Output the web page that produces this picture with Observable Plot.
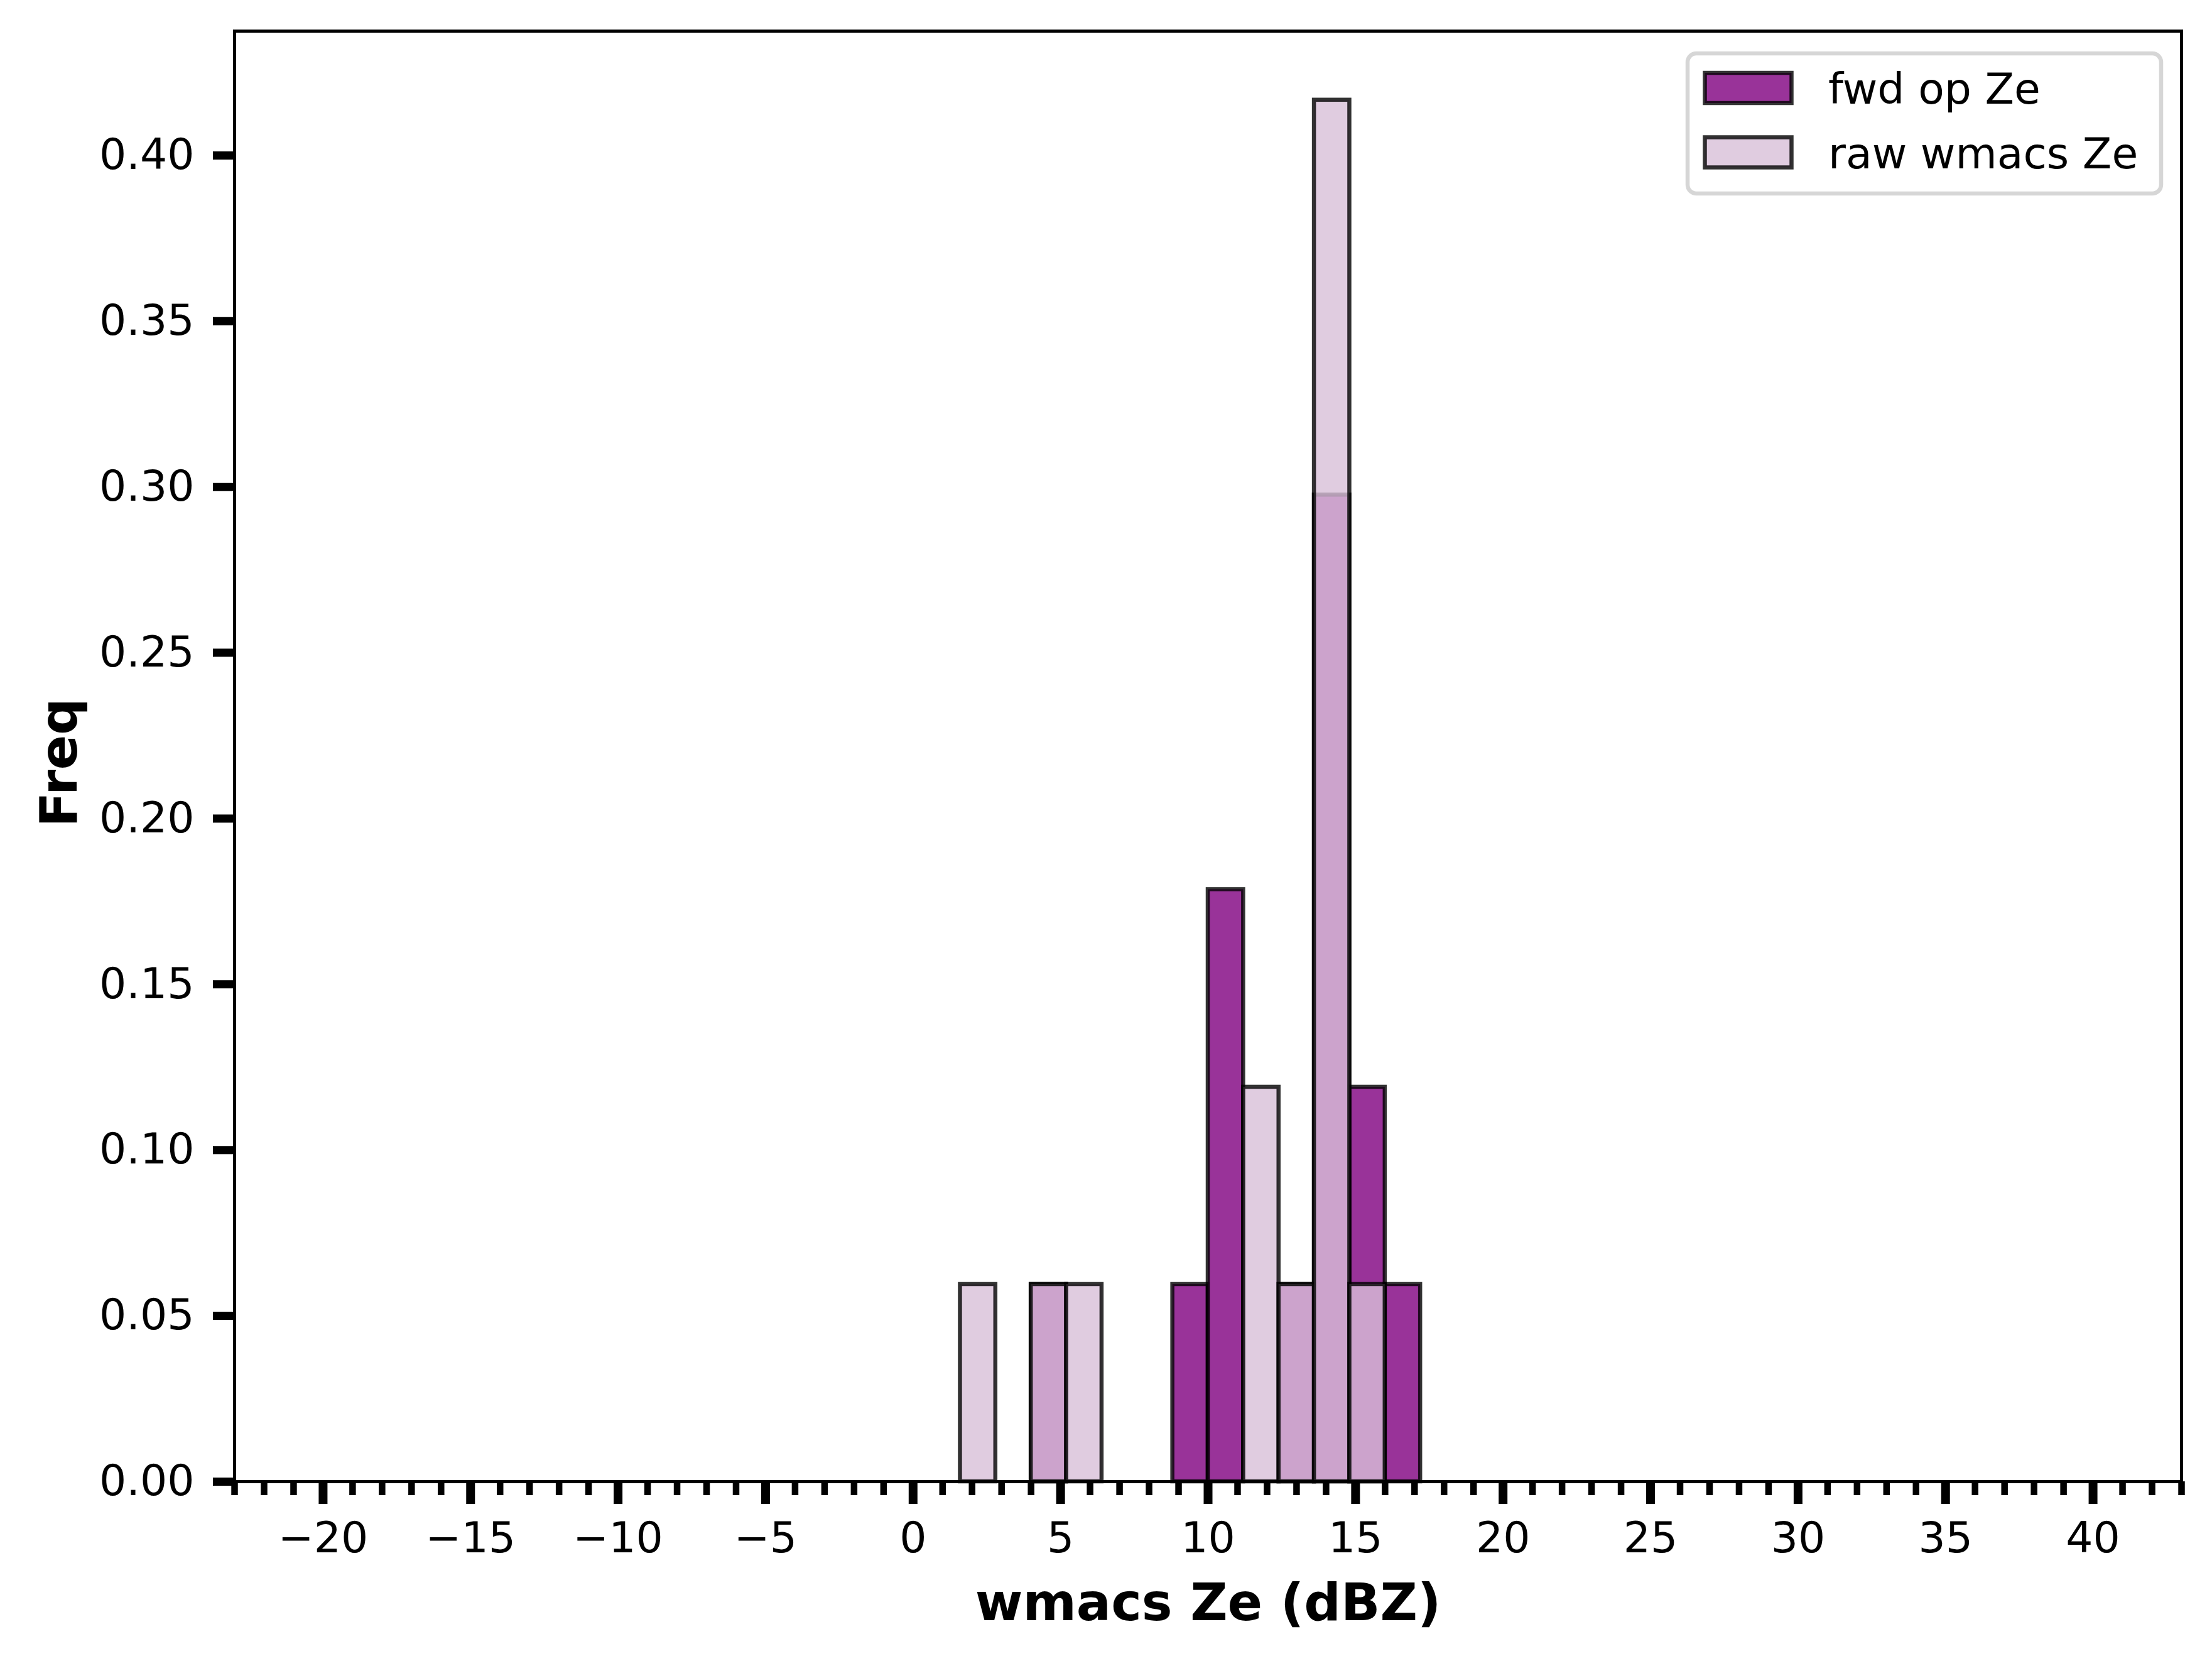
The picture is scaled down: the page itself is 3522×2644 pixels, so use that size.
<!DOCTYPE html>
<html>
<head>
<meta charset="utf-8">
<script src="https://cdn.jsdelivr.net/npm/d3@7"></script>
<script src="https://cdn.jsdelivr.net/npm/@observablehq/plot@0.6"></script>
<style>
  html, body { margin: 0; padding: 0; background: #fff; }
  #chart svg { display: block; max-width: none; }
</style>
</head>
<body>
<div id="chart"></div>
<script>
// ---- data ----
const binLo = [1.6, 2.8, 4.0, 5.2, 6.4, 7.6, 8.8, 10.0, 11.2, 12.4, 13.6, 14.8, 16.0];
const binHi = [2.8, 4.0, 5.2, 6.4, 7.6, 8.8, 10.0, 11.2, 12.4, 13.6, 14.8, 16.0, 17.2];
const fwdFreq = [0, 0, 0.0595, 0, 0, 0, 0.0595, 0.1786, 0, 0.0595, 0.2976, 0.119, 0.0595];
const rawFreq = [0.0595, 0, 0.0595, 0.0595, 0, 0, 0, 0, 0.119, 0.0595, 0.4167, 0.0595, 0];
const seriesNames = ["fwd op Ze", "raw wmacs Ze"];
const xMajorTicks = [-20, -15, -10, -5, 0, 5, 10, 15, 20, 25, 30, 35, 40];
const yTicks = [0, 0.05, 0.10, 0.15, 0.20, 0.25, 0.30, 0.35, 0.40];
const xDomain = [-23, 43];
const yDomain = [0, 0.4375];
const xLabel = "wmacs Ze (dBZ)";
const yLabel = "Freq";

// ---- tables ----
const fwdRows = binLo.map((lo, i) => ({lo, hi: binHi[i], v: fwdFreq[i]})).filter(d => d.v > 0);
const rawRows = binLo.map((lo, i) => ({lo, hi: binHi[i], v: rawFreq[i]})).filter(d => d.v > 0);
const xMinorTicks = d3.range(xDomain[0], xDomain[1] + 1, 1).filter(t => !xMajorTicks.includes(t));

const W = 3522, H = 2644;
const mL = 373, mR = 49, mT = 49, mB = 286;
const FONT = "DejaVu Sans";
const fwdColor = "#800080", rawColor = "#d8bfd8";
const minus = d => (d < 0 ? "\u2212" + Math.abs(d) : String(d));

const chart = Plot.plot({
  width: W,
  height: H,
  marginLeft: mL,
  marginRight: mR,
  marginTop: mT,
  marginBottom: mB,
  style: {fontFamily: FONT, fontSize: "68px", color: "black", background: "white"},
  x: {domain: xDomain},
  y: {domain: yDomain},
  marks: [
    Plot.rectY(fwdRows, {x1: "lo", x2: "hi", y1: 0, y2: "v", fill: fwdColor, fillOpacity: 0.8,
      stroke: "black", strokeOpacity: 0.8, strokeWidth: 6.5}),
    Plot.rectY(rawRows, {x1: "lo", x2: "hi", y1: 0, y2: "v", fill: rawColor, fillOpacity: 0.8,
      stroke: "black", strokeOpacity: 0.8, strokeWidth: 6.5}),
    Plot.frame({stroke: "black", strokeWidth: 5}),
    Plot.axisX({ticks: xMinorTicks, tickSize: 22, strokeWidth: 10.5, text: null, label: null}),
    Plot.axisX({ticks: xMajorTicks, tickSize: 36, strokeWidth: 14, tickPadding: 28,
      tickFormat: minus, fontSize: 68, label: null}),
    Plot.axisY({ticks: yTicks, tickSize: 34, strokeWidth: 13, tickPadding: 30,
      tickFormat: d3.format(".2f"), fontSize: 68, label: null}),
    Plot.text([xLabel], {frameAnchor: "bottom", dy: 220, lineAnchor: "bottom", textAnchor: "middle",
      text: d => d, fontSize: 82, fontWeight: "bold", fill: "black"}),
    Plot.text([yLabel], {frameAnchor: "left", dx: -252, dy: 10, rotate: -90, lineAnchor: "bottom",
      textAnchor: "middle", text: d => d, fontSize: 82, fontWeight: "bold", fill: "black"})
  ]
});

// ---- legend (upper right, inside the axes) ----
const svg = d3.select(chart);
const right = W - mR;
const lg = svg.append("g").attr("font-family", FONT).attr("font-size", 68).attr("text-anchor", "start");
const boxX = right - 35 - 754 + 3, boxY = mT + 36;
lg.append("rect")
  .attr("x", boxX).attr("y", boxY).attr("width", 754).attr("height", 223)
  .attr("rx", 14).attr("ry", 14)
  .attr("fill", "white").attr("fill-opacity", 0.8)
  .attr("stroke", "#d6d6d6").attr("stroke-width", 6.5);
const colors = [fwdColor, rawColor];
seriesNames.forEach((name, i) => {
  const cy = boxY + 55 + i * 102.5;
  lg.append("rect")
    .attr("x", boxX + 27.5).attr("y", cy - 24).attr("width", 138).attr("height", 48)
    .attr("fill", colors[i]).attr("fill-opacity", 0.8)
    .attr("stroke", "black").attr("stroke-opacity", 0.8).attr("stroke-width", 6.5);
  lg.append("text")
    .attr("x", boxX + 224).attr("y", cy + 25)
    .attr("text-anchor", "start")
    .attr("fill", "black")
    .text(name);
});

document.getElementById("chart").appendChild(chart);
</script>
</body>
</html>
